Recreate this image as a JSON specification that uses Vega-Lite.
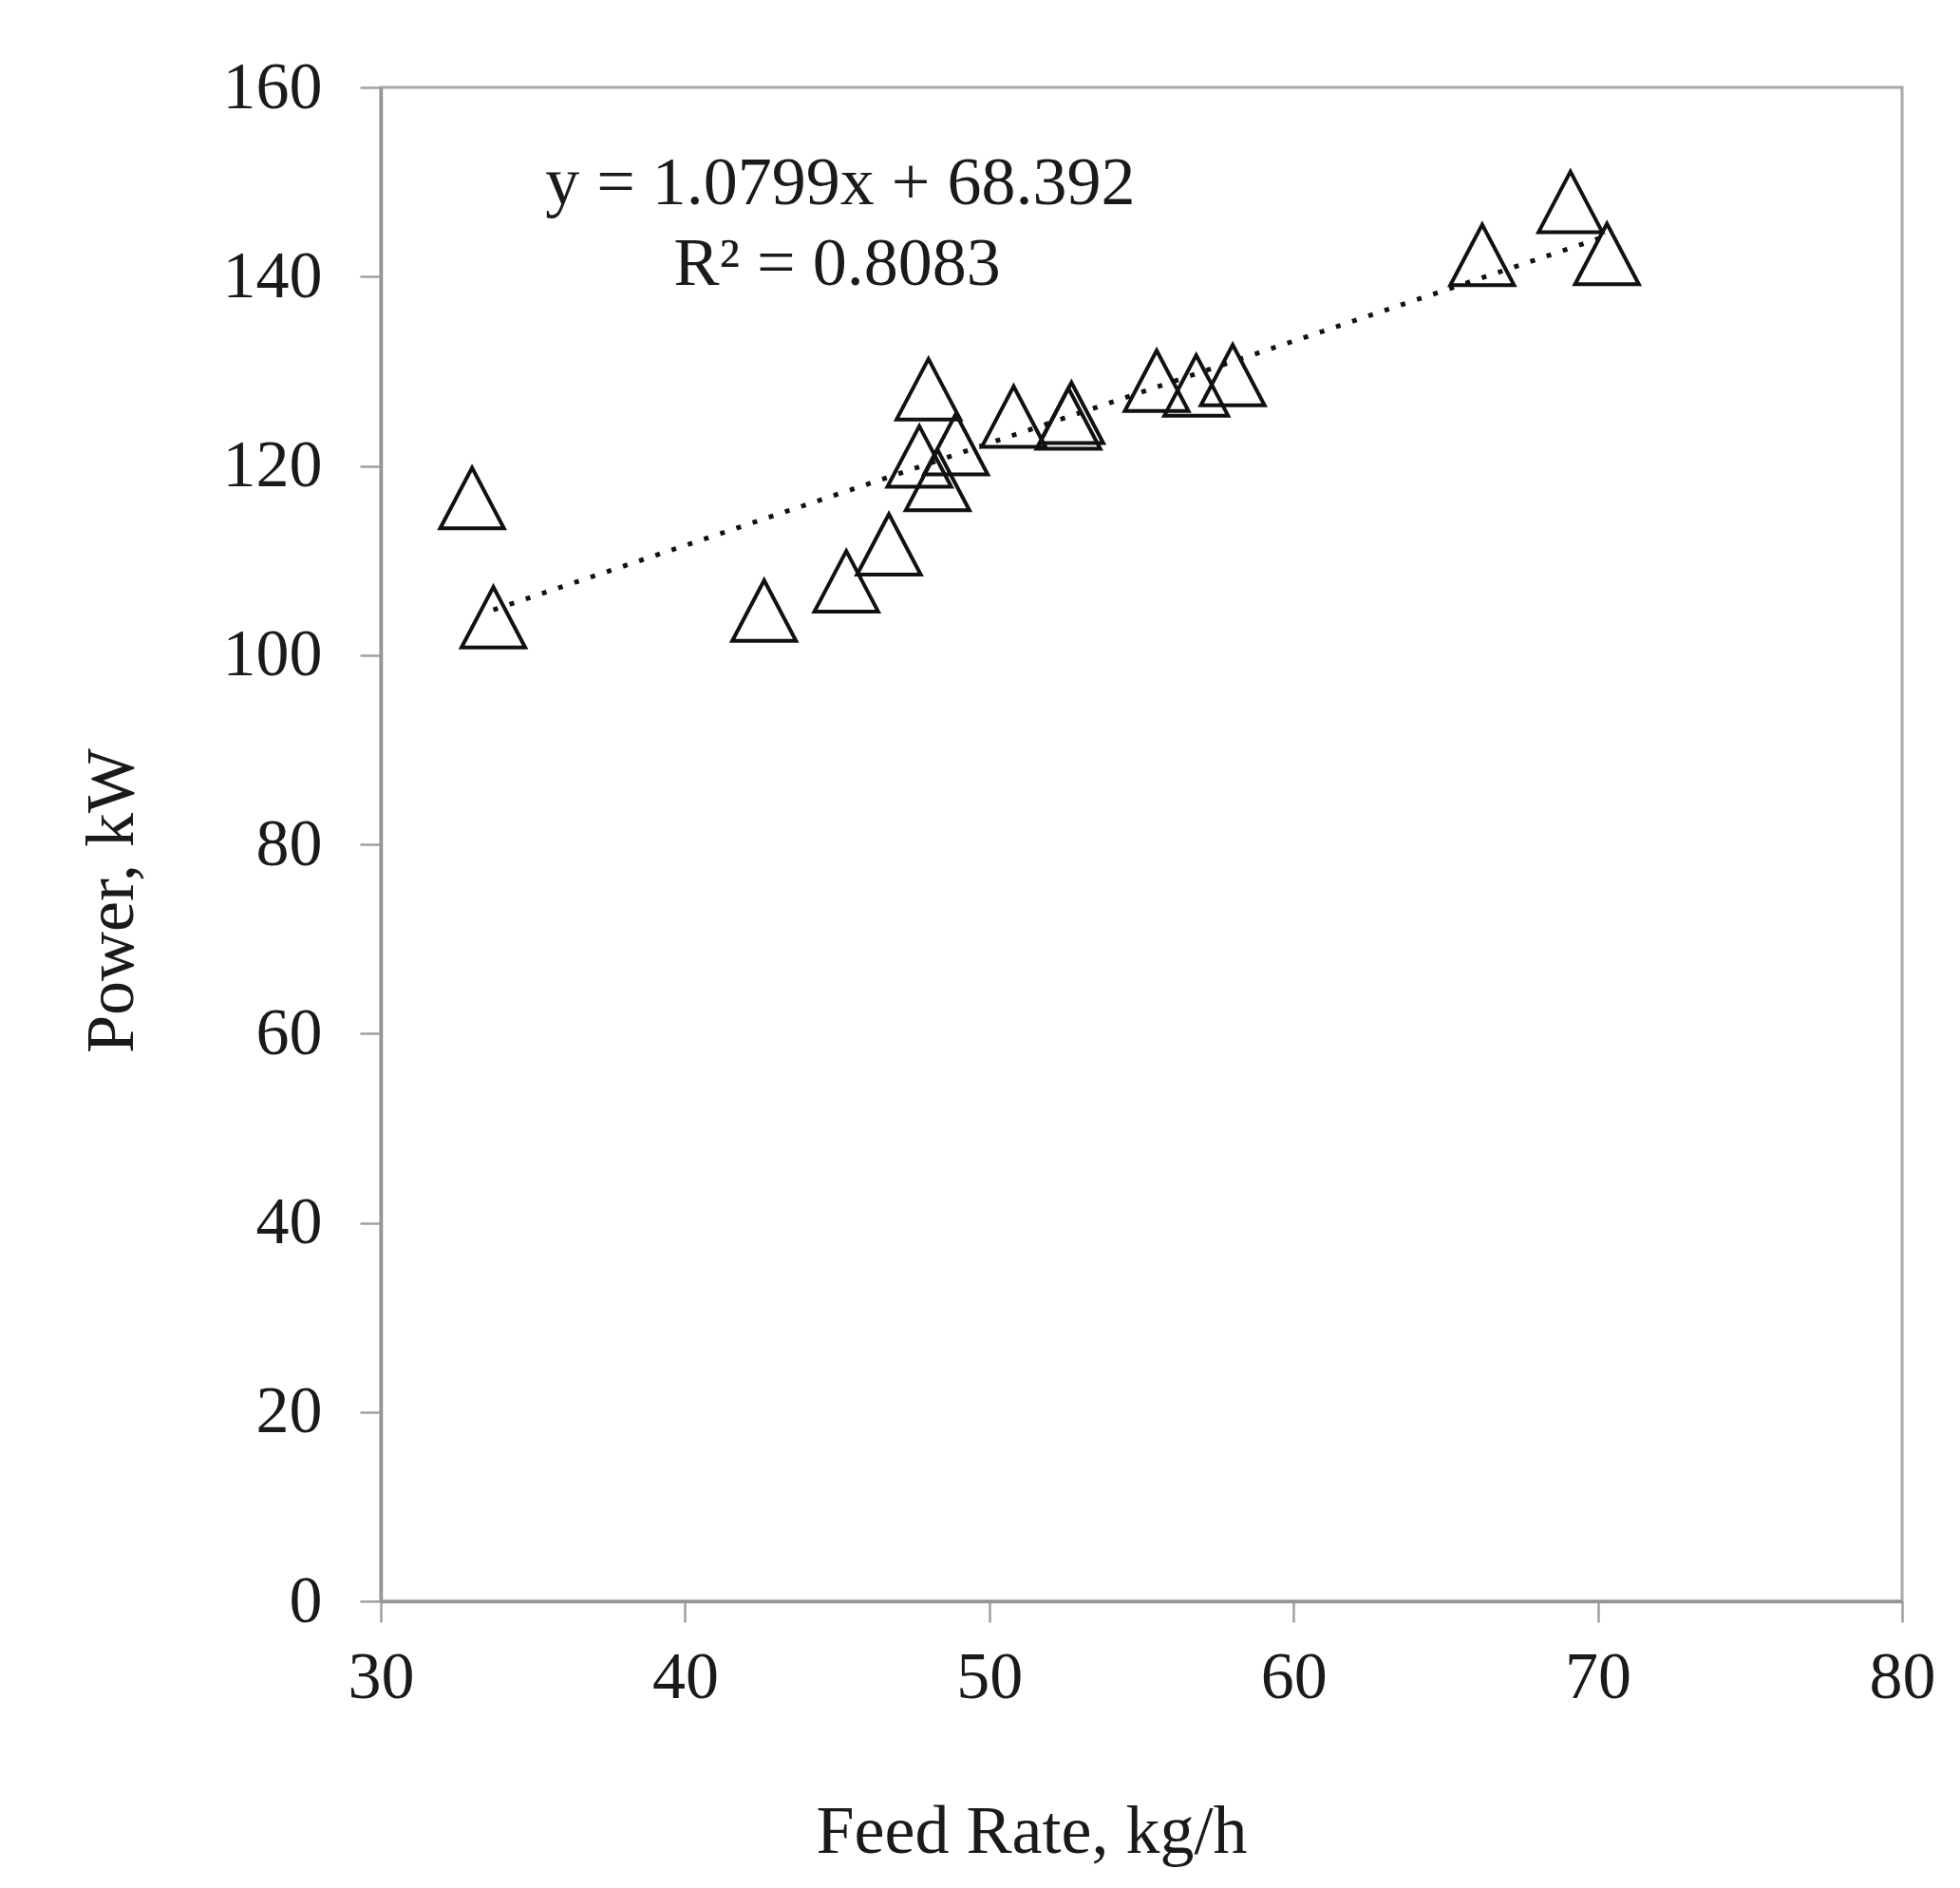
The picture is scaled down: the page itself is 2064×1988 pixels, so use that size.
{
  "$schema": "https://vega.github.io/schema/vega-lite/v6.json",
  "width": 1602,
  "height": 1594,
  "autosize": "none",
  "padding": {"left": 401, "top": 92, "right": 61, "bottom": 302},
  "background": "white",
  "config": {
    "view": {"stroke": "#a8a8a8", "strokeWidth": 3},
    "font": "Liberation Serif",
    "axis": {
      "grid": false,
      "domainColor": "#959595",
      "domainWidth": 3.5,
      "tickColor": "#a0a0a0",
      "tickWidth": 2.5,
      "tickSize": 22,
      "labelFlush": false,
      "labelOverlap": false,
      "labelFont": "Liberation Serif",
      "labelFontSize": 70,
      "labelColor": "#1a1a1a",
      "titleFont": "Liberation Serif",
      "titleFontSize": 72,
      "titleFontWeight": "normal",
      "titleColor": "#1a1a1a"
    }
  },
  "datasets": {
    "points": [
      {"feed": 33.0, "power": 116.6},
      {"feed": 33.7, "power": 104.0},
      {"feed": 42.6, "power": 104.7},
      {"feed": 45.3, "power": 107.8},
      {"feed": 46.7, "power": 111.7},
      {"feed": 48.0, "power": 128.1},
      {"feed": 47.7, "power": 121.0},
      {"feed": 48.3, "power": 118.5},
      {"feed": 48.9, "power": 122.3},
      {"feed": 50.8, "power": 125.2},
      {"feed": 52.6, "power": 125.0},
      {"feed": 52.7, "power": 125.6},
      {"feed": 55.5, "power": 129.0},
      {"feed": 56.8, "power": 128.5},
      {"feed": 58.0, "power": 129.6},
      {"feed": 66.2, "power": 142.3},
      {"feed": 69.1, "power": 147.9},
      {"feed": 70.3, "power": 142.4}
    ],
    "trend": [
      {"feed": 33.7, "power": 104.78},
      {"feed": 70.3, "power": 144.31}
    ],
    "labels": [
      {"feed": 45.1, "power": 149.9, "text": "y = 1.0799x + 68.392"},
      {"feed": 45.0, "power": 141.3, "text": "R² = 0.8083"}
    ]
  },
  "encoding": {
    "x": {
      "field": "feed", "type": "quantitative",
      "scale": {"domain": [30, 80], "nice": false, "zero": false},
      "axis": {"values": [30, 40, 50, 60, 70, 80], "title": "Feed Rate, kg/h", "labelPadding": 24, "titlePadding": 92, "titleX": 685}
    },
    "y": {
      "field": "power", "type": "quantitative",
      "scale": {"domain": [0, 160], "nice": false},
      "axis": {"values": [0, 20, 40, 60, 80, 100, 120, 140, 160], "title": "Power, kW", "labelPadding": 40, "titlePadding": 80, "titleY": 856}
    }
  },
  "layer": [
    {
      "data": {"name": "trend"},
      "mark": {"type": "line", "color": "#111111", "strokeWidth": 5, "strokeDash": [5, 13]},
      "encoding": {}
    },
    {
      "data": {"name": "points"},
      "mark": {"type": "point", "shape": "M-1,0.95L0,-0.95L1,0.95Z", "size": 4500, "filled": false, "stroke": "#111111", "strokeWidth": 4, "opacity": 1},
      "encoding": {}
    },
    {
      "data": {"name": "labels"},
      "mark": {"type": "text", "font": "Liberation Serif", "fontSize": 72, "color": "#1a1a1a", "align": "center", "baseline": "middle"},
      "encoding": {"text": {"field": "text", "type": "nominal"}}
    }
  ]
}
